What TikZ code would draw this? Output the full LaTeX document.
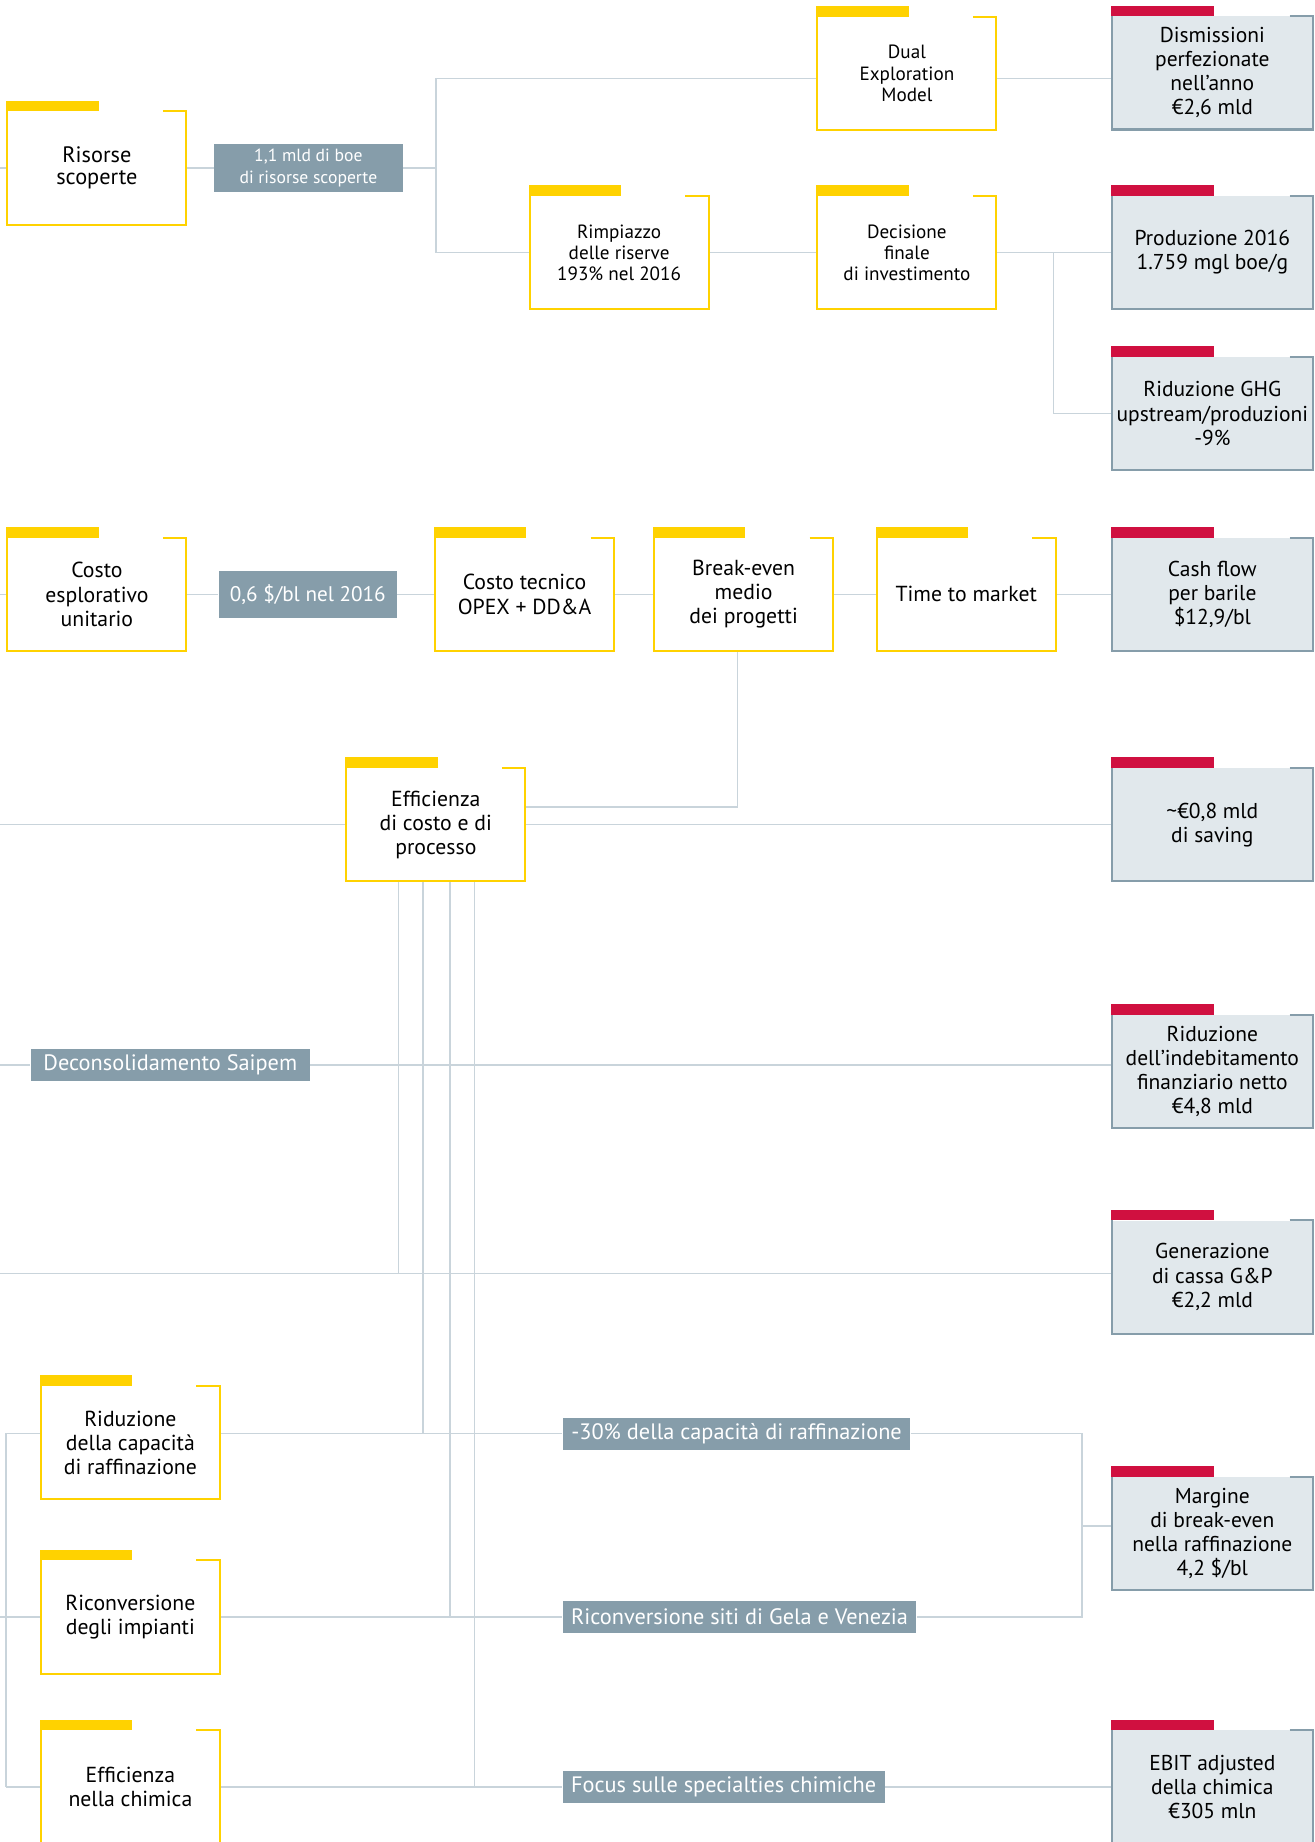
\documentclass[tikz,border=0pt]{standalone}
\usepackage{fontspec}
\setmainfont{PT Sans}
\usetikzlibrary{calc}

\definecolor{gold}{RGB}{255,210,0}
\definecolor{crimson}{RGB}{208,16,64}
\definecolor{slate}{RGB}{134,157,170}
\definecolor{mist}{RGB}{225,232,236}
\definecolor{wire}{RGB}{201,212,219}

\begin{document}
\begin{tikzpicture}
  [x=1pt,y=-1pt,
   lever/.style={rectangle,fill=white,minimum width=152pt,minimum height=96pt,inner sep=0pt,align=center,font=\fontsize{18.5}{20.5}\selectfont},
   result/.style={rectangle,fill=mist,minimum width=171pt,minimum height=96pt,inner sep=0pt,align=center,font=\fontsize{18.3}{20.5}\selectfont},
   tag/.style={rectangle,fill=slate,text=white,minimum height=27pt,inner sep=0pt,align=center,font=\fontsize{19}{21}\selectfont},
   link/.style={draw=wire,line width=1.2pt}]

  \useasboundingbox (0,0) rectangle (1119,1568);

  % upstream
  \node[lever,font=\fontsize{19}{19}\selectfont] (n1) at (82.5,143) {Risorse\\scoperte};
  \node[tag,minimum width=161pt,minimum height=41pt,font=\fontsize{15}{18}\selectfont] (n2) at (262.5,143) {1,1 mld di boe\\di risorse scoperte};
  \node[lever,font=\fontsize{16.3}{18}\selectfont] (n3) at (772,62.5) {Dual\\Exploration\\Model};
  \node[result] (n4) at (1032,62) {Dismissioni\\perfezionate\\nell’anno\\€2,6 mld};
  \node[lever,font=\fontsize{16.3}{18}\selectfont] (n5) at (527,215) {Rimpiazzo\\delle riserve\\193\% nel 2016};
  \node[lever,font=\fontsize{16.3}{18}\selectfont] (n6) at (772,215) {Decisione\\finale\\di investimento};
  \node[result] (n7) at (1032,215) {Produzione 2016\\1.759 mgl boe/g};
  \node[result] (n8) at (1032,352) {Riduzione GHG\\upstream/produzioni\\-9\%};

  % costs
  \node[lever] (n10) at (82.5,506) {Costo\\esplorativo\\unitario};
  \node[tag,minimum width=152pt,minimum height=40pt,font=\fontsize{18}{20}\selectfont] (n9) at (262,506) {0,6 \$/bl nel 2016};
  \node[lever] (n12) at (446.5,506) {Costo tecnico\\OPEX + DD\&A};
  \node[lever] (n13) at (633,506) {Break-even\\medio\\dei progetti};
  \node[lever] (n14) at (822.5,506) {Time to market};
  \node[result] (n11) at (1032,506) {Cash flow\\per barile\\\$12,9/bl};

  \node[lever] (n16) at (371,702) {Efficienza\\di costo e di\\processo};
  \node[result] (n17) at (1032,702) {\textasciitilde€0,8 mld\\di saving};

  \node[tag,minimum width=238pt] (n15) at (145,906.5) {Deconsolidamento Saipem};
  \node[result] (n18) at (1032,912) {Riduzione\\dell’indebitamento\\finanziario netto\\€4,8 mld};
  \node[result] (n19) at (1032,1087) {Generazione\\di cassa G\&P\\€2,2 mld};

  % downstream
  \node[lever] (n20) at (111,1228) {Riduzione\\della capacità\\di raffinazione};
  \node[lever] (n21) at (111,1376.5) {Riconversione\\degli impianti};
  \node[lever] (n22) at (111,1521) {Efficienza\\nella chimica};
  \node[tag,minimum width=296pt] (n25) at (627,1220.5) {-30\% della capacità di raffinazione};
  \node[tag,minimum width=301pt] (n26) at (629.5,1376.5) {Riconversione siti di Gela e Venezia};
  \node[tag,minimum width=274pt] (n27) at (616,1521) {Focus sulle specialties chimiche};
  \node[result] (n23) at (1032,1305.5) {Margine\\di break-even\\nella raffinazione\\4,2 \$/bl};
  \node[result] (n24) at (1032,1521) {EBIT adjusted\\della chimica\\€305 mln};

  \coordinate (e1) at (0,143);
  \coordinate (j1) at (371,143);
  \coordinate (j1a) at (371,67);
  \coordinate (j2) at (897,215);
  \coordinate (e2) at (0,506);
  \coordinate (j3) at (628,687);
  \coordinate (e3) at (0,702);
  \coordinate (e4) at (0,906.5);
  \coordinate (e5) at (0,1084);
  \coordinate (f1) at (5,1220.5);
  \coordinate (f2) at (5,1521);
  \coordinate (e6) at (0,1376.5);
  \coordinate (g1) at (921,1299);

  \foreach \from/\to in {e1/n1,n1/n2,n2/j1,n5/n6,n6/n7,e2/n10,n10/n9,n9/n12,n12/n13,n13/n14,n14/n11,e3/n16,n16/n17,e4/n15,e6/n21,n21/n26,f2/n22,n22/n27,n27/n24}
    \draw[link] (\from) -- (\to);
  \draw[link] (n3.west |- j1a) -| (j1) |- (n5);
  \draw[link] (n3.east |- j1a) -- (n4.west |- j1a);
  \draw[link] (j2) |- (n8);
  \draw[link] (n13.south -| j3) -- (j3) -- (n16.east |- j3);
  \draw[link] (n15) -- (n15 -| n18.west);
  \draw[link] (e5) -- (e5 -| n19.west);
  \foreach \x/\c in {339/e5,360/f1,383/n21,404/n22}
    \draw[link] (n16.south -| \x,0) -- (\x,0 |- \c);
  \draw[link] (n20.west |- f1) -- (f1) -- (f2);
  \draw[link] (n20.east |- f1) -- (n25);
  \draw[link] (n25) -| (g1) |- (n26);
  \draw[link] (g1) -- (g1 -| n23.west);

  % frames
  \foreach \n in {n1,n3,n5,n6,n10,n12,n13,n14,n16,n20,n21,n22} {
    \draw[gold,line width=1.6pt] ([xshift=-20pt]\n.north east) -- (\n.north east) -- (\n.south east) -- (\n.south west) -- (\n.north west);
    \fill[gold] ([xshift=-0.8pt]\n.north west) rectangle ($(\n.north west)!0.51!(\n.north east)+(0,-9)$);
  }
  \foreach \n in {n4,n7,n8,n11,n17,n18,n19,n23,n24} {
    \draw[slate,line width=1.8pt] ([xshift=-20pt]\n.north east) -- (\n.north east) -- (\n.south east) -- (\n.south west) -- (\n.north west);
    \fill[crimson] ([xshift=-0.9pt]\n.north west) rectangle ($(\n.north west)!0.51!(\n.north east)+(0,-9)$);
  }
\end{tikzpicture}
\end{document}
